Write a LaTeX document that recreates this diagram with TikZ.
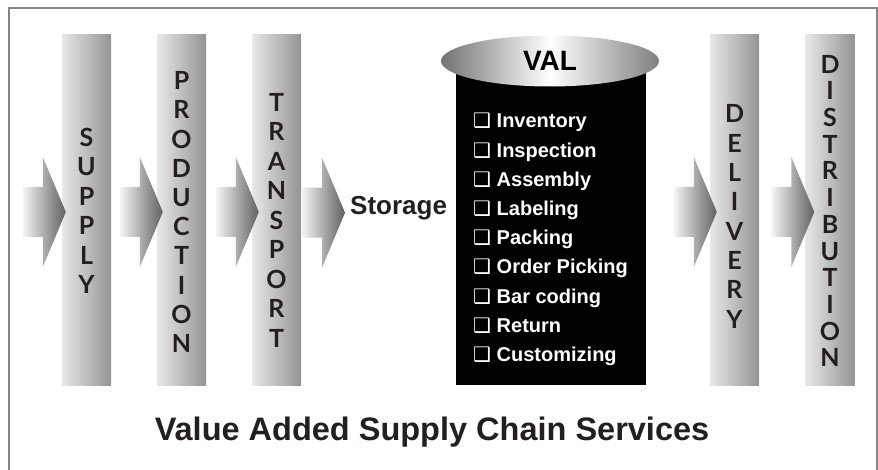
\documentclass[tikz,border=0pt]{standalone}
\usepackage{fontspec}
\setmainfont{Liberation Sans}
\newfontfamily\stagefont{Lato}
\newfontfamily\dingfont{DejaVu Sans}
\usetikzlibrary{shapes.geometric,positioning}

\definecolor{inkdark}{HTML}{231F20}
\definecolor{framegray}{HTML}{858585}

% one shaded column with its word written top to bottom
\newcommand{\stagebar}[5]{%
    \node[stage] (#1) at (#2,210) {};%
    \node[stagelabel, font=\stagefont\bfseries\fontsize{25}{#4}\selectfont]
          (#1-text) at (#2,#3) {#5};%
}
% fat arrow, drawn back from its tip
\newcommand{\feedarrow}[1]{%
    \shade[feed] #1 -- ++(-23,-55) -- ++(0,30) -- ++(-20,0)
          -- ++(0,50) -- ++(20,0) -- ++(0,30) -- cycle;%
}

\begin{document}
\begin{tikzpicture}[
        x=1pt,
        y=-1pt,
        stage/.style={minimum width=49, minimum height=350, inner sep=0pt,
                      left color=black!9, right color=black!42},
        stagelabel/.style={align=center, inner sep=0pt, text=inkdark},
        feed/.style={left color=black!4, right color=black!62},
        service/.style={anchor=base west, inner sep=0pt, text=white,
                        font=\bfseries\fontsize{20}{24}\selectfont}
    ]
        \useasboundingbox (0,0) rectangle (878,470);
        \draw[framegray, line width=2pt] (9,8) rectangle (877,490);

        \stagebar{supply}{86.5}{211}{29.5}{S\\U\\P\\P\\L\\Y}
        \stagebar{production}{181.5}{212}{29.2}{P\\R\\O\\D\\U\\C\\T\\I\\O\\N}
        \stagebar{transport}{276.5}{220}{29.5}{T\\R\\A\\N\\S\\P\\O\\R\\T}
        \stagebar{delivery}{734.5}{216.5}{29.3}{D\\E\\L\\I\\V\\E\\R\\Y}
        \stagebar{distribution}{830}{211}{26.7}{D\\I\\S\\T\\R\\I\\B\\U\\T\\I\\O\\N}

        \node[anchor=base west, inner sep=0pt, text=inkdark,
              font=\bfseries\fontsize{26}{30}\selectfont] (storage) at (350,215) {Storage};

        % VAL cylinder
        \node[fill=black, minimum width=190, minimum height=324, inner sep=0pt] (val) at (551,223) {};
        \node[ellipse, minimum width=218, minimum height=51, inner sep=0pt,
              left color=black!55, right color=black!50, middle color=white] (valtop) at (550,61) {};
        \node[anchor=base, inner sep=0pt, text=black,
              font=\bfseries\fontsize{28}{32}\selectfont] (valname) at (550,71) {VAL};

        \foreach \task [count=\i from 0] in {Inventory, Inspection, Assembly, Labeling,
                Packing, Order Picking, Bar coding, Return, Customizing}
            \node[service] (task-\i) at (473,{128+29.2*\i}) {{\dingfont ❑}~\task};

        \feedarrow{([shift={(4,2)}]supply.west)}
        \feedarrow{([shift={(6,2)}]production.west)}
        \feedarrow{([shift={(7,2)}]transport.west)}
        \feedarrow{([shift={(-5,4)}]storage.west)}
        \feedarrow{([shift={(7,2)}]delivery.west)}
        \feedarrow{([shift={(9,2)}]distribution.west)}

        \node[anchor=base, inner sep=0pt, text=inkdark,
              font=\bfseries\fontsize{32.5}{36}\selectfont] (title) at (432,440)
              {Value Added Supply Chain Services};
    \end{tikzpicture}
\end{document}
